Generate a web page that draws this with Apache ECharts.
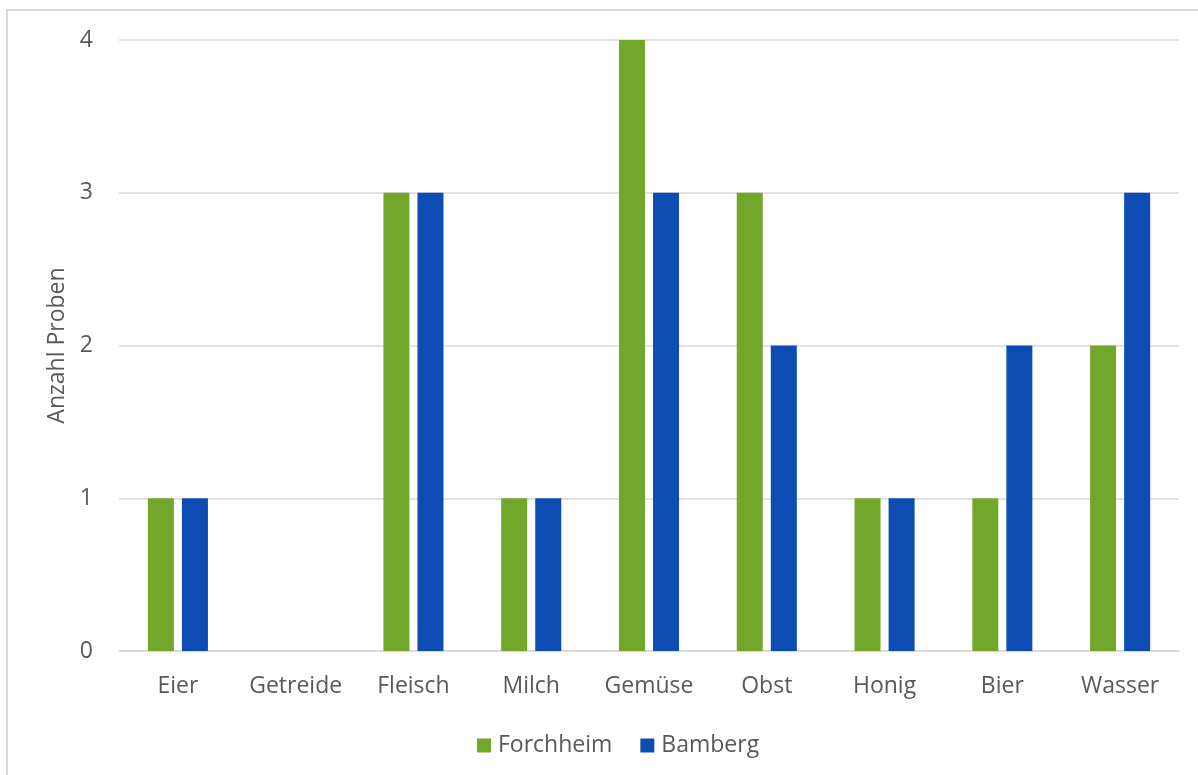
<!DOCTYPE html>
<html>
<head>
<meta charset="utf-8">
<script src="https://cdn.jsdelivr.net/npm/echarts@6/dist/echarts.min.js"></script>
<style>
  html, body { margin: 0; padding: 0; background: #fff; }
  #frame { position: absolute; left: 6px; top: 9px; width: 1220px; height: 800px; border: 2px solid #d9d9d9; box-sizing: border-box; }
  #chart { position: absolute; left: 0; top: 0; width: 1198px; height: 775px; }
</style>
</head>
<body>
<div id="frame"></div>
<div id="chart"></div>
<script>
const categories = ['Eier', 'Getreide', 'Fleisch', 'Milch', 'Gemüse', 'Obst', 'Honig', 'Bier', 'Wasser'];
const forchheim = [1, 0, 3, 1, 4, 3, 1, 1, 2];
const bamberg   = [1, 0, 3, 1, 3, 2, 1, 2, 3];
const seriesNames = ['Forchheim', 'Bamberg'];
const axisTitle = 'Anzahl Proben';

const font = '"Open Sans", "DejaVu Sans", sans-serif';
const textColor = '#595959';
const gridColor = '#d9d9d9';

const chart = echarts.init(document.getElementById('chart'), null, { renderer: 'canvas' });
chart.setOption({
  backgroundColor: 'transparent',
  animation: false,
  grid: { left: 119, right: 19, top: 40, bottom: 124, containLabel: false },
  legend: {
    left: 472,
    top: 729,
    itemWidth: 14,
    itemHeight: 14,
    itemGap: 28,
    icon: 'rect',
    textStyle: { fontFamily: font, fontSize: 23, color: textColor, padding: [0, 0, 0, 2] },
    data: seriesNames
  },
  xAxis: {
    type: 'category',
    data: categories,
    axisLine: { show: true, lineStyle: { color: gridColor, width: 1.5 } },
    axisTick: { show: false },
    axisLabel: { fontFamily: font, fontSize: 23, color: textColor, margin: 24, interval: 0 }
  },
  yAxis: {
    type: 'value',
    min: 0,
    max: 4,
    interval: 1,
    name: axisTitle,
    nameLocation: 'middle',
    nameGap: 50,
    nameRotate: 90,
    nameTextStyle: { fontFamily: font, fontSize: 23, color: textColor },
    axisLine: { show: false },
    axisTick: { show: false },
    axisLabel: { fontFamily: font, fontSize: 23, color: textColor, margin: 26 },
    splitLine: { show: true, lineStyle: { color: gridColor, width: 1.5 } }
  },
  series: [
    {
      name: seriesNames[0],
      type: 'bar',
      data: forchheim,
      barWidth: 26,
      barGap: '31%',
      itemStyle: { color: '#72a72b' }
    },
    {
      name: seriesNames[1],
      type: 'bar',
      data: bamberg,
      barWidth: 26,
      barGap: '31%',
      itemStyle: { color: '#0c4cb3' }
    }
  ]
});
</script>
</body>
</html>
